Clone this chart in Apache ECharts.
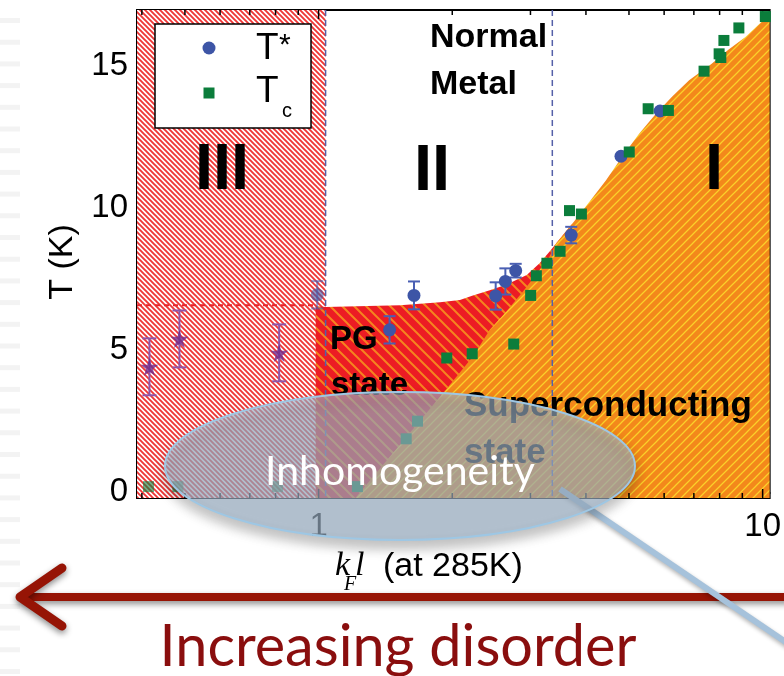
<!DOCTYPE html>
<html>
<head>
<meta charset="utf-8">
<script src="https://cdn.jsdelivr.net/npm/echarts@6/dist/echarts.min.js"></script>
<style>
  html, body { margin: 0; padding: 0; background: #ffffff; }
  #chart { width: 784px; height: 676px; }
</style>
</head>
<body>
<div id="chart"></div>
<script>
// ---- data: kF*l (at 285 K) versus temperature (K) ----
const xRange = [0.39, 10.37];
const yRange = [-0.2, 16.95];

// T* with error bars: [kFl, T*, err]
const tStar = [
  [0.993, 6.94, 0.48],
  [1.445, 5.71, 0.48],
  [1.64, 6.92, 0.49],
  [2.505, 6.90, 0.48],
  [2.634, 7.41, 0.46],
  [2.779, 7.79, 0.24],
  [3.706, 9.04, 0.29],
  [4.797, 11.81, 0],
  [5.875, 13.40, 0]
];

// Tc: [kFl, Tc]
const tc = [
  [0.414, 0.2], [0.482, 0.2], [0.808, 0.2], [1.223, 0.2],
  [1.575, 1.88], [1.67, 2.5], [1.944, 4.72], [2.218, 4.87],
  [2.751, 5.21], [3.003, 6.92], [3.093, 7.61], [3.267, 8.05],
  [3.498, 8.47], [3.673, 9.9], [3.907, 9.78], [5.007, 11.96],
  [5.523, 13.48], [6.134, 13.42], [7.38, 14.8], [7.98, 15.41],
  [8.05, 15.28], [8.18, 15.88], [8.84, 16.32], [10.14, 16.72]
];

// gap-edge temperatures in the insulating-side films: [kFl, T, err]
const gapStars = [
  [0.416, 4.41, 1.0],
  [0.486, 5.39, 1.0],
  [0.815, 4.90, 1.0]
];

// region boundaries
const regionIIIEdge = 1.037;
const regionIEdge = 3.36;
const pgPlateau = 6.57;
const regionIII = [[0.39, 16.95], [regionIIIEdge, 16.95]];
const plateauLine = [[0.39, pgPlateau], [0.985, pgPlateau]];
const pgTop = [
  [0.985, 6.55], [1.037, 6.51], [1.527, 6.57], [1.877, 6.68], [2.081, 6.76],
  [2.226, 6.92], [2.43, 7.10], [2.652, 7.30], [2.943, 7.64], [3.146, 8.05],
  [3.31, 8.45], [3.43, 8.75], [3.73, 9.45]
];
const scTop = [
  [1.21, -0.2], [1.908, 3.49], [2.228, 4.78], [2.43, 5.71], [2.647, 6.35],
  [2.886, 7.06], [3.146, 7.82], [3.31, 8.28], [3.43, 8.75], [3.73, 9.45],
  [4.07, 10.2], [4.44, 10.97], [4.83, 11.8], [5.27, 12.6], [5.75, 13.3],
  [6.25, 13.9], [6.83, 14.48], [7.69, 15.07], [8.37, 15.55], [9.15, 16.0],
  [10.37, 16.8]
];

// axis ticks and labels
const xTicks = [0.4, 0.5, 0.6, 0.7, 0.8, 0.9, 1, 2, 3, 4, 5, 6, 7, 8, 9, 10];
const xMajor = [1, 10];
const yLabels = [0, 5, 10, 15];
const yTicks = [0, 2.5, 5, 7.5, 10, 12.5, 15];

// ---- helpers ----
function stripes(size, bg, fg, width, dir) {
  const c = document.createElement('canvas');
  c.width = c.height = size;
  const g = c.getContext('2d');
  g.fillStyle = bg;
  g.fillRect(0, 0, size, size);
  g.strokeStyle = fg;
  g.lineWidth = width;
  g.beginPath();
  for (let k = -1; k <= 2; k++) {
    if (dir === 'down') {
      g.moveTo(-size, (k - 1) * size);
      g.lineTo(2 * size, (k + 2) * size);
    } else {
      g.moveTo(-size, (k + 1) * size);
      g.lineTo(2 * size, (k - 2) * size);
    }
  }
  g.stroke();
  return { image: c, repeat: 'repeat' };
}

function fitSize(text, family, target) {
  const g = document.createElement('canvas').getContext('2d');
  g.font = '100px ' + family;
  return 100 * target / g.measureText(text).width;
}

const hatchIII = stripes(5, '#ffffff', '#ef3636', 1.9, 'down');
const hatchPG = stripes(12, '#ec1c24', '#f5841f', 2.0, 'down');
const hatchSC = stripes(9, '#f3881b', '#fbd02a', 1.3, 'up');

function errorBars(data, color, capHalf, z, opacityFn) {
  return {
    type: 'custom', z: z, silent: true, data: data,
    renderItem: function (params, api) {
      const x = api.value(0), y = api.value(1), e = api.value(2);
      if (!e) return null;
      const top = api.coord([x, y + e]);
      const bot = api.coord([x, y - e]);
      const st = { stroke: color, lineWidth: 2, opacity: opacityFn(x) };
      return {
        type: 'group', children: [
          { type: 'line', shape: { x1: top[0], y1: top[1], x2: bot[0], y2: bot[1] }, style: st },
          { type: 'line', shape: { x1: top[0] - capHalf, y1: top[1], x2: top[0] + capHalf, y2: top[1] }, style: st },
          { type: 'line', shape: { x1: bot[0] - capHalf, y1: bot[1], x2: bot[0] + capHalf, y2: bot[1] }, style: st }
        ]
      };
    }
  };
}

const inIII = x => (x < regionIIIEdge ? 0.6 : 1);
const starPath = 'path://M50,0 L61,35 L98,35 L68,57 L79,91 L50,70 L21,91 L32,57 L2,35 L39,35 Z';

const sans = 'Liberation Sans';
const serif = 'Liberation Serif';
const slideFont = 'Lato';

// ---- slide overlays ----
const graphics = [];
for (let y = 18; y < 676; y += 21.7) {
  graphics.push({ type: 'rect', z: 0, silent: true, shape: { x: 0, y: y, width: 20, height: 5 }, style: { fill: '#f3f3f3' } });
}

function label(text, x, y, size, opts) {
  return Object.assign({
    type: 'text', z: 20, silent: true, x: x, y: y,
    style: Object.assign({
      text: text, fill: '#000', font: 'bold ' + size + 'px "' + sans + '"',
      align: 'left', verticalAlign: 'middle'
    }, (opts && opts.style) || {})
  }, (opts && opts.el) || {});
}

graphics.push(
  // legend box
  { type: 'rect', z: 30, shape: { x: 155, y: 24, width: 156, height: 104 }, style: { fill: '#fff', stroke: '#000', lineWidth: 1.5 } },
  { type: 'circle', z: 31, shape: { cx: 209, cy: 48, r: 6.5 }, style: { fill: '#3d55a6' } },
  { type: 'rect', z: 31, shape: { x: 203.5, y: 87.5, width: 11, height: 11 }, style: { fill: '#0b7d3b' } },
  label('T', 256, 49, 37, { style: { font: '37px "' + sans + '"' }, el: { z: 31 } }),
  label('*', 279, 46, 30, { style: { font: '30px "' + sans + '"' }, el: { z: 31 } }),
  label('T', 256, 92, 37, { style: { font: '37px "' + sans + '"' }, el: { z: 31 } }),
  label('c', 282, 111, 20, { style: { font: '20px "' + sans + '"' }, el: { z: 31 } }),

  // region labels
  label('III', 222, 171, 65, { style: { align: 'center' } }),
  label('II', 432, 172, 65, { style: { align: 'center' } }),
  label('I', 714, 171, 65, { style: { align: 'center' } }),
  label('Normal', 430, 38, 34),
  label('Metal', 430, 85, 34),
  label('PG', 330, 340, 33),
  label('state', 331, 386, 33),
  label('Superconducting', 464, 406, 35),
  label('state', 464, 453, 35),

  // axis titles
  label('T (K)', 63, 262, 34, { style: { font: '34px "' + sans + '"', align: 'center' }, el: { rotation: Math.PI / 2 } }),
  label('k', 335, 566, 34, { style: { font: 'italic 34px "' + serif + '"' } }),
  label('F', 344, 585, 20, { style: { font: 'italic 20px "' + serif + '"' } }),
  label('l', 355, 566, 34, { style: { font: 'italic 34px "' + serif + '"' } }),
  label('(at 285K)', 383, 567, 34, { style: { font: '34px "' + sans + '"' } }),

  // disorder arrow
  { type: 'line', z: 97, silent: true, shape: { x1: 22, y1: 597, x2: 790, y2: 597 },
    style: { stroke: '#961405', lineWidth: 8, shadowBlur: 6, shadowColor: 'rgba(0,0,0,0.45)', shadowOffsetY: 3 } },
  { type: 'polyline', z: 97, silent: true, shape: { points: [[62, 568], [20, 597], [62, 626]] },
    style: { stroke: '#961405', lineWidth: 9, lineCap: 'round', lineJoin: 'round', fill: null, shadowBlur: 6, shadowColor: 'rgba(0,0,0,0.45)', shadowOffsetY: 3 } },
  { type: 'text', z: 97, silent: true, x: 398, y: 647,
    style: { text: 'Increasing disorder', fill: '#8a0e0e', align: 'center', verticalAlign: 'middle',
      font: fitSize('Increasing disorder', slideFont, 477).toFixed(1) + 'px "' + slideFont + '"' } },

  // connector from the inhomogeneity bubble
  { type: 'line', z: 99, silent: true, shape: { x1: 560, y1: 489, x2: 790, y2: 645 },
    style: { stroke: '#a6c2db', lineWidth: 6, shadowBlur: 4, shadowColor: 'rgba(0,0,0,0.3)', shadowOffsetY: 2 } },
  // inhomogeneity bubble
  { type: 'ellipse', z: 100, silent: true, shape: { cx: 400, cy: 466, rx: 235, ry: 74 },
    style: { fill: 'rgba(166,189,212,0.62)', stroke: '#9ec7e4', lineWidth: 2,
      shadowBlur: 12, shadowColor: 'rgba(0,0,0,0.38)', shadowOffsetY: 7 } },
  { type: 'text', z: 101, silent: true, x: 400, y: 472,
    style: { text: 'Inhomogeneity', fill: '#ffffff', align: 'center', verticalAlign: 'middle',
      font: fitSize('Inhomogeneity', slideFont, 270).toFixed(1) + 'px "' + slideFont + '"' } }
);

// ---- chart ----
const chart = echarts.init(document.getElementById('chart'), null, { renderer: 'canvas' });
chart.setOption({
  animation: false,
  backgroundColor: '#ffffff',
  grid: { left: 137, right: 13, top: 10, bottom: 178, show: true, borderColor: '#000', borderWidth: 2, backgroundColor: 'transparent' },
  xAxis: {
    type: 'log', logBase: 10, min: xRange[0], max: xRange[1],
    axisLine: { show: true, lineStyle: { color: '#000', width: 2 } },
    axisTick: { show: false },
    splitLine: { show: false },
    minorTick: { show: false },
    axisLabel: { customValues: xMajor, color: '#000', fontSize: 33, fontFamily: sans, margin: 12, formatter: v => String(Math.round(v)) }
  },
  yAxis: {
    type: 'value', min: yRange[0], max: yRange[1],
    axisLine: { show: true, lineStyle: { color: '#000', width: 2 } },
    axisTick: { show: true, inside: true, length: 5, customValues: yTicks, lineStyle: { color: '#000', width: 1.5 } },
    splitLine: { show: false },
    axisLabel: { customValues: yLabels, color: '#000', fontSize: 33, fontFamily: sans, margin: 9 }
  },
  graphic: graphics,
  series: [
    { name: 'Region III', type: 'line', z: 1, silent: true, data: regionIII, symbol: 'none',
      lineStyle: { width: 0 }, areaStyle: { color: hatchIII, opacity: 1, origin: 'start' } },
    { name: 'PG plateau', type: 'line', z: 2, silent: true, data: plateauLine, symbol: 'none',
      lineStyle: { color: '#e8262b', width: 2, type: [5, 4] } },
    { name: 'PG state', type: 'line', z: 3, silent: true, data: pgTop, symbol: 'none',
      lineStyle: { width: 0 }, areaStyle: { color: hatchPG, opacity: 1, origin: 'start' } },
    { name: 'Superconducting state', type: 'line', z: 4, silent: true, data: scTop, symbol: 'none',
      lineStyle: { width: 0 }, areaStyle: { color: hatchSC, opacity: 1, origin: 'start' } },
    { name: 'Region edges', type: 'custom', z: 5, silent: true, data: [[regionIIIEdge, 0], [regionIEdge, 0]],
      renderItem: function (params, api) {
        const v = api.value(0);
        const a = api.coord([v, yRange[1]]), b = api.coord([v, yRange[0]]);
        return { type: 'line', shape: { x1: a[0], y1: a[1], x2: b[0], y2: b[1] },
          style: { stroke: '#5560a8', lineWidth: 1.5, lineDash: [6, 4] } };
      } },
    { name: 'x ticks', type: 'custom', z: 6, silent: true, data: xTicks.map(v => [v, 0]),
      renderItem: function (params, api) {
        const v = api.value(0);
        const len = xMajor.indexOf(v) >= 0 ? 9 : 5;
        const a = api.coord([v, yRange[1]]), b = api.coord([v, yRange[0]]);
        const st = { stroke: '#000', lineWidth: 1.5 };
        return { type: 'group', children: [
          { type: 'line', shape: { x1: a[0], y1: a[1], x2: a[0], y2: a[1] + len }, style: st },
          { type: 'line', shape: { x1: b[0], y1: b[1], x2: b[0], y2: b[1] - len }, style: st }
        ] };
      } },
    errorBars(gapStars, '#8e55aa', 7, 7, () => 1),
    { name: 'gap edge', type: 'scatter', z: 8, silent: true, symbol: starPath, symbolSize: 18,
      data: gapStars.map(d => [d[0], d[1]]), itemStyle: { color: '#6e2a8e' } },
    errorBars(tStar, '#4a5fb3', 6, 9, inIII),
    { name: 'T*', type: 'scatter', z: 10, silent: true, symbol: 'circle', symbolSize: 13,
      data: tStar.map(d => ({ value: [d[0], d[1]], itemStyle: { opacity: inIII(d[0]) } })),
      itemStyle: { color: '#3d55a6' } },
    { name: 'Tc', type: 'scatter', z: 11, silent: true, symbol: 'rect', symbolSize: 11,
      data: tc.map(d => ({ value: d, itemStyle: { opacity: inIII(d[0]) } })),
      itemStyle: { color: '#0b7d3b' } }
  ]
});
</script>
</body>
</html>
